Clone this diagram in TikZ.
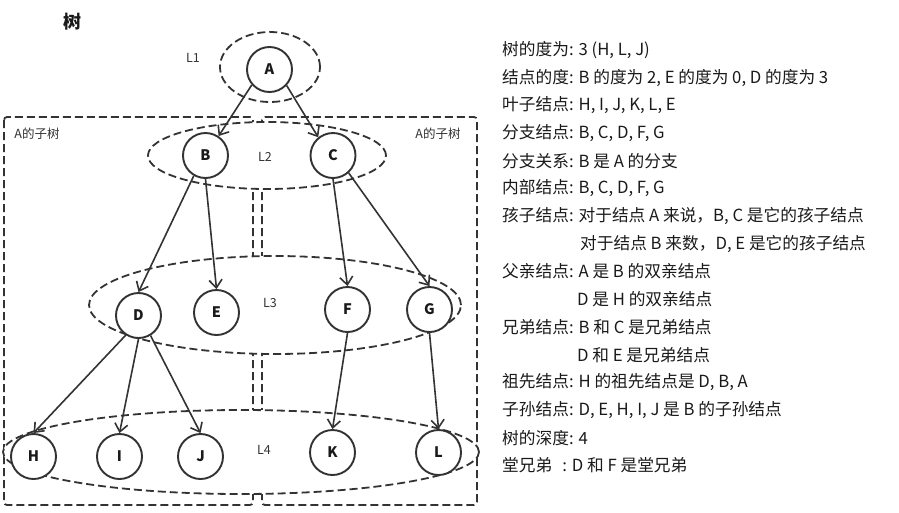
\documentclass[tikz,border=0pt]{standalone}
\usepackage{fontspec}
\setmainfont{Noto Sans CJK SC}
\usetikzlibrary{arrows.meta,shapes.geometric}
\definecolor{ink}{HTML}{333333}
\definecolor{txt}{HTML}{1A1A1A}
\begin{document}
\begin{tikzpicture}[x=1pt,y=-1pt,
  dline/.style={draw=ink, line width=1.8pt, dash pattern=on 8pt off 4pt},
  ell/.style={ellipse, dline, fill=white, inner sep=0pt},
  box/.style={dline, rounded corners=3pt},
  circ/.style={circle, draw=ink, line width=1.9pt, minimum size=45pt, inner sep=0pt, fill=white, text=txt, font=\fontsize{14.5}{14.5}\selectfont\bfseries},
  arr/.style={draw=ink, line width=1.6pt, -{Straight Barb[length=8pt,width=13pt,line width=1.6pt]}},
  lvl/.style={text=ink, font=\fontsize{12.5}{12.5}\selectfont},
  sub/.style={text=ink, font=\fontsize{12.5}{12.5}\selectfont},
  info/.style={anchor=west, text=txt, inner sep=0pt, font=\fontsize{16.7}{16.7}\selectfont}
]
\useasboundingbox[fill=white] (0,0) rectangle (899,512);

% title
\node[text=txt, font=\fontsize{18}{18}\selectfont\bfseries] (title) at (72,22) {树};

% subtree boxes
\draw[box] (4,117) rectangle (253,505);
\draw[box] (262,117) rectangle (477,505);
\node[sub] (subL) at (37,134) {A的子树};
\node[sub] (subR) at (438,134) {A的子树};

% level ellipses
\node[ell, minimum width=100pt, minimum height=70pt] (E1) at (270,67) {};
\node[ell, minimum width=238pt, minimum height=67pt] (E2) at (267,155.5) {};
\node[ell, minimum width=372pt, minimum height=98pt] (E3) at (275,305) {};
\node[ell, minimum width=476pt, minimum height=84pt] (E4) at (241,452) {};

\node[lvl] (l1) at (193,58) {L1};
\node[lvl] (l2) at (265,157) {L2};
\node[lvl] (l3) at (270,303) {L3};
\node[lvl] (l4) at (264,450) {L4};

% tree nodes
\node[circ] (A) at (269.5,69.5) {A};
\node[circ] (B) at (205.5,155.5) {B};
\node[circ] (C) at (333,155.5) {C};
\node[circ] (D) at (138.5,315.5) {D};
\node[circ] (E) at (216.5,312.5) {E};
\node[circ] (F) at (347.5,309.5) {F};
\node[circ] (G) at (429.5,309.5) {G};
\node[circ] (H) at (33.5,456.5) {H};
\node[circ] (I) at (119.5,456.5) {I};
\node[circ] (J) at (200.5,456.5) {J};
\node[circ] (K) at (332.5,452.5) {K};
\node[circ] (L) at (438.5,452.5) {L};

% edges
\draw[arr] (A.221) -- (B.56);
\draw[arr] (A.317) -- (C.129);
\draw[arr] (B.240) -- (D.north);
\draw[arr] (B.south) -- (E.north);
\draw[arr] (C.south) -- (F.north);
\draw[arr] (C.312) -- (G.north);
\draw[arr] (D.237) -- (H.north);
\draw[arr] (D.south) -- (I.north);
\draw[arr] (D.301) -- (J.north);
\draw[arr] (F.south) -- (K.north);
\draw[arr] (G.south) -- (L.north);

% description
\node[info] (t1) at (502,50) {树的度为: 3 (H, L, J)};
\node[info] (t2) at (502,77.7) {结点的度: B 的度为 2, E 的度为 0, D 的度为 3};
\node[info] (t3) at (502,105.4) {叶子结点: H, I, J, K, L, E};
\node[info] (t4) at (502,133.1) {分支结点: B, C, D, F, G};
\node[info] (t5) at (502,160.8) {分支关系: B 是 A 的分支};
\node[info] (t6) at (502,188.5) {内部结点: B, C, D, F, G};
\node[info] (t7) at (502,216.2) {孩子结点: 对于结点 A 来说，B, C 是它的孩子结点};
\node[info] (t8) at (580,243.9) {对于结点 B 来数，D, E 是它的孩子结点};
\node[info] (t9) at (502,271.6) {父亲结点: A 是 B 的双亲结点};
\node[info] (t10) at (577,299.3) {D 是 H 的双亲结点};
\node[info] (t11) at (502,327) {兄弟结点: B 和 C 是兄弟结点};
\node[info] (t12) at (577,354.7) {D 和 E 是兄弟结点};
\node[info] (t13) at (502,382.4) {祖先结点: H 的祖先结点是 D, B, A};
\node[info] (t14) at (502,410.1) {子孙结点: D, E, H, I, J 是 B 的子孙结点};
\node[info] (t15) at (502,437.8) {树的深度: 4};
\node[info] (t16) at (502,465.5) {堂兄弟\hspace{0.6em}: D 和 F 是堂兄弟};
\end{tikzpicture}
\end{document}
